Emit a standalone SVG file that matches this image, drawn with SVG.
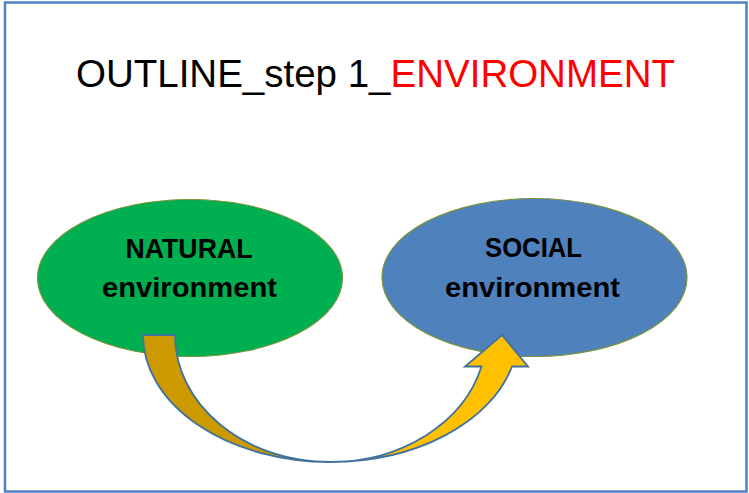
<svg xmlns="http://www.w3.org/2000/svg" width="749" height="493" viewBox="0 0 749 493">
<style>
.lbl{font-family:"Liberation Sans",Arial,sans-serif;font-weight:bold;font-size:28px;fill:#000;text-anchor:middle}
.ell{stroke:#77933c;stroke-width:1.2}
.arr{stroke:#41719c;stroke-width:1.8;stroke-linejoin:miter}
</style>
<rect x="0" y="0" width="749" height="493" fill="#ffffff"/>
<rect id="frame" x="5" y="2.5" width="741.5" height="489" fill="#ffffff" stroke="#4f81c4" stroke-width="2.5"/>
<text id="title" x="76" y="87" font-family="'Liberation Sans',Arial,sans-serif" font-size="39" textLength="599" lengthAdjust="spacingAndGlyphs"><tspan fill="#000000">OUTLINE_step 1_</tspan><tspan fill="#ff0000">ENVIRONMENT</tspan></text>
<g id="natural">
<ellipse class="ell" cx="190" cy="278" rx="152.5" ry="78.5" fill="#00b050"/>
<text class="lbl" x="189" y="258" textLength="127" lengthAdjust="spacingAndGlyphs">NATURAL</text>
<text class="lbl" x="189.5" y="297" textLength="175" lengthAdjust="spacingAndGlyphs">environment</text>
</g>
<g id="social">
<ellipse class="ell" cx="534.5" cy="277.5" rx="152.5" ry="79" fill="#4f81bd"/>
<text class="lbl" x="533.5" y="257" textLength="97" lengthAdjust="spacingAndGlyphs">SOCIAL</text>
<text class="lbl" x="532.5" y="297" textLength="175" lengthAdjust="spacingAndGlyphs">environment</text>
</g>
<g id="connectors">
<path class="arr" fill="#cc9900" d="M143,335 A187,127 0 0 0 330,462 A155,127 0 0 1 175,335 Z"/>
<path class="arr" fill="#ffc000" d="M330,462 A187.5,127 0 0 0 512,366.5 L528,366.5 L502,335 L465,366.5 L481.5,366.5 A156,127 0 0 1 330,462 Z"/>
</g>
</svg>
